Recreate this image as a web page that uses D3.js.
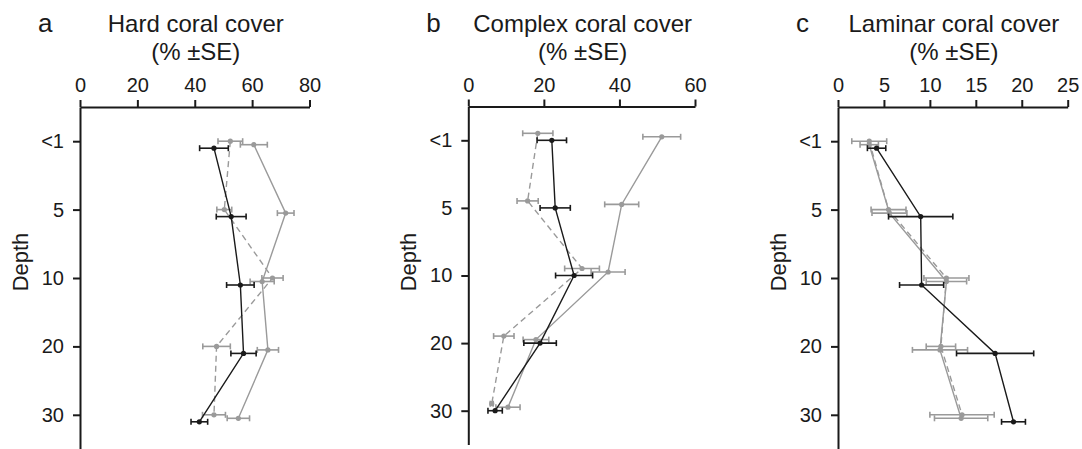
<!DOCTYPE html>
<html><head><meta charset="utf-8">
<script src="https://cdn.jsdelivr.net/npm/d3@7"></script>
<style>
body{margin:0;background:#fff;}
svg{display:block;font-family:"Liberation Sans",Arial,Helvetica,sans-serif;}
</style></head><body>
<svg id="chart" width="1082" height="449"></svg>
<script>
const depths = ["<1","5","10","20","30"];

const hardTicks = [0,20,40,60,80];
const hardDashed = [52.4, 50.3, 67.1, 47.6, 46.7];
const hardDashedSE = [4.3, 2.6, 3.7, 4.8, 4.0];
const hardGray = [60.6, 71.7, 63.5, 65.5, 55.2];
const hardGraySE = [4.7, 2.9, 4.2, 3.7, 3.9];
const hardBlack = [46.7, 52.7, 55.9, 57.0, 41.6];
const hardBlackSE = [5.0, 5.2, 4.8, 4.4, 2.9];

const complexTicks = [0,20,40,60];
const complexDashed = [18.4, 15.7, 30.1, 9.4, 6.2];
const complexDashedSE = [4.0, 2.8, 4.6, 2.7, 0.4];
const complexGray = [51.2, 40.6, 37.0, 17.9, 10.5];
const complexGraySE = [5.0, 4.5, 4.5, 3.4, 3.2];
const complexBlack = [22.1, 23.0, 28.0, 19.0, 7.1];
const complexBlackSE = [3.9, 4.0, 4.9, 4.3, 1.9];

const laminarTicks = [0,5,10,15,20,25];
const laminarDashed = [3.4, 5.5, 11.8, 11.2, 13.5];
const laminarDashedSE = [1.9, 1.9, 2.45, 1.6, 3.5];
const laminarGray = [3.4, 5.6, 11.8, 11.1, 13.4];
const laminarGraySE = [1.0, 1.9, 2.2, 3.0, 2.9];
const laminarBlack = [4.2, 9.0, 9.1, 17.1, 19.1];
const laminarBlackSE = [1.0, 3.5, 2.4, 4.2, 1.3];

const panels = [
  {letter:"a", title:"Hard coral cover", ticks:hardTicks, xr:[80,309.5], yr:[107,449], off:[0,3.5,7],
   series:[[hardGray,hardGraySE],[hardDashed,hardDashedSE],[hardBlack,hardBlackSE]]},
  {letter:"b", title:"Complex coral cover", ticks:complexTicks, xr:[468.3,695], yr:[106.5,444.5], off:[-7,-3.5,0],
   series:[[complexGray,complexGraySE],[complexDashed,complexDashedSE],[complexBlack,complexBlackSE]]},
  {letter:"c", title:"Laminar coral cover", ticks:laminarTicks, xr:[838,1067.7], yr:[107,449], off:[0,3.5,7],
   series:[[laminarGray,laminarGraySE],[laminarDashed,laminarDashedSE],[laminarBlack,laminarBlackSE]]}
];
// series order: solid gray, dashed gray, black
const sColor = ["#9a9a9a","#9a9a9a","#1a1a1a"];
const sDash = [null,"6,4",null];
const sOffIdx = [1,0,2];

const svg = d3.select("#chart");

panels.forEach(p => {
  const g = svg.append("g");
  const x = d3.scaleLinear().domain([0, d3.max(p.ticks)]).range(p.xr);
  const y = d3.scalePoint().domain(depths).range(p.yr).padding(0.5);
  const axisY = p.yr[0];

  // x axis (top)
  const xa = g.append("g").attr("transform",`translate(0,${axisY})`)
    .call(d3.axisTop(x).tickValues(p.ticks).tickSize(7).tickSizeOuter(0).tickPadding(8));
  xa.select(".domain").attr("stroke","#1a1a1a").attr("stroke-width",2);
  xa.selectAll(".tick line").attr("stroke","#1a1a1a").attr("stroke-width",2);
  xa.selectAll("text").attr("font-size",20).attr("fill","#1a1a1a").attr("font-family","Liberation Sans, Arial, sans-serif");

  // y axis (left)
  const ya = g.append("g").attr("transform",`translate(${p.xr[0]},0)`)
    .call(d3.axisLeft(y).tickSize(7).tickSizeOuter(0).tickPadding(9));
  ya.select(".domain").attr("stroke","#1a1a1a").attr("stroke-width",2);
  ya.selectAll(".tick line").attr("stroke","#1a1a1a").attr("stroke-width",2);
  ya.selectAll("text").attr("font-size",20).attr("fill","#1a1a1a").attr("font-family","Liberation Sans, Arial, sans-serif");

  const cx = (p.xr[0]+p.xr[1])/2 + 1;
  g.append("text").attr("x",cx).attr("y",32).attr("text-anchor","middle")
    .attr("font-size",24).attr("fill","#1a1a1a").text(p.title);
  g.append("text").attr("x",cx).attr("y",60).attr("text-anchor","middle")
    .attr("font-size",24).attr("fill","#1a1a1a").text("(% ±SE)");
  g.append("text").attr("x",p.xr[0]-42).attr("y",32)
    .attr("font-size",26).attr("fill","#1a1a1a").text(p.letter);
  g.append("text").attr("transform",`translate(${p.xr[0]-52},262) rotate(-90)`)
    .attr("text-anchor","middle").attr("font-size",22).attr("fill","#1a1a1a").text("Depth");

  p.series.forEach((s, si) => {
    const vals = s[0], se = s[1];
    const off = p.off[sOffIdx[si]];
    const pts = depths.map((d,i) => ({d, v:vals[i], e:se[i]}));
    const sg = g.append("g");
    const line = d3.line().x(d => x(d.v)).y(d => y(d.d) + off);
    sg.append("path").datum(pts).attr("d",line).attr("fill","none")
      .attr("stroke",sColor[si]).attr("stroke-width",1.4)
      .attr("stroke-dasharray",sDash[si]);
    const eb = sg.selectAll("g.eb").data(pts).enter().append("g");
    eb.append("line").attr("x1",d=>x(d.v-d.e)).attr("x2",d=>x(d.v+d.e))
      .attr("y1",d=>y(d.d)+off).attr("y2",d=>y(d.d)+off)
      .attr("stroke",sColor[si]).attr("stroke-width",1.6);
    [-1,1].forEach(sign => {
      eb.append("line").attr("x1",d=>x(d.v+sign*d.e)).attr("x2",d=>x(d.v+sign*d.e))
        .attr("y1",d=>y(d.d)+off-3).attr("y2",d=>y(d.d)+off+3)
        .attr("stroke",sColor[si]).attr("stroke-width",1.6);
    });
    eb.append("circle").attr("cx",d=>x(d.v)).attr("cy",d=>y(d.d)+off).attr("r",2.6)
      .attr("fill",sColor[si]);
  });
});
</script>
</body></html>
